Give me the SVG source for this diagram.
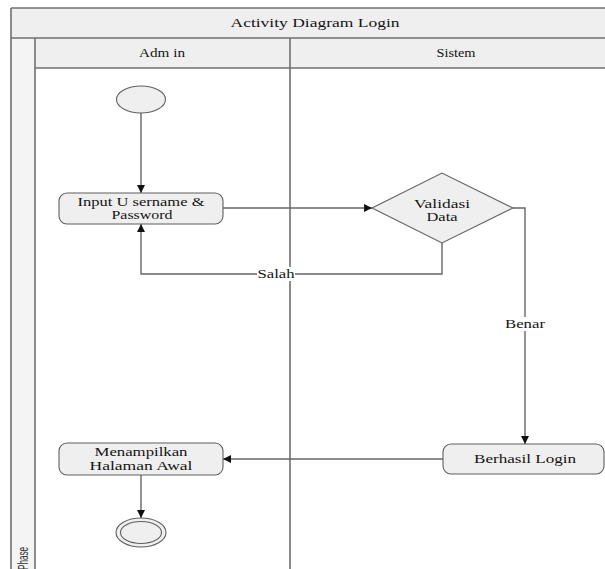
<svg xmlns="http://www.w3.org/2000/svg" width="605" height="569" viewBox="0 0 605 569">
  <style>
    .band { fill: #efefef; stroke: none; }
    .rule { stroke: #707070; stroke-width: 1.6; fill: none; }
    .node { fill: #efefef; stroke: #5f5f5f; stroke-width: 1.1; }
    .edge { fill: none; stroke: #666666; stroke-width: 1.4; }
    .lbl { font-family: "Liberation Serif", "Times New Roman", serif; font-size: 12px; fill: #141414; text-anchor: middle; }
    .tag { fill: #ffffff; stroke: none; }
  </style>
  <defs>
    <marker id="arrow" markerUnits="userSpaceOnUse" markerWidth="9" markerHeight="9" refX="8" refY="4" orient="auto">
      <path d="M0,0 L8,4 L0,8 z" fill="#111111"/>
    </marker>
  </defs>

  <!-- swimlane frame -->
  <g id="frame">
    <rect x="0" y="0" width="605" height="569" fill="#ffffff"/>
    <rect class="band" x="11" y="8" width="611" height="30"/>
    <rect class="band" x="35" y="38" width="587" height="30"/>
    <rect x="11" y="38" width="24" height="531" fill="#f4f4f4"/>
    <line class="rule" x1="11" y1="8" x2="622" y2="8"/>
    <line class="rule" x1="11" y1="38" x2="622" y2="38"/>
    <line class="rule" x1="35" y1="68" x2="622" y2="68"/>
    <line class="rule" x1="11" y1="8" x2="11" y2="569"/>
    <line class="rule" x1="35" y1="38" x2="35" y2="569"/>
    <line class="rule" x1="290" y1="38" x2="290" y2="569"/>
    <text class="lbl" x="315" y="27" textLength="169" lengthAdjust="spacingAndGlyphs">Activity Diagram Login</text>
    <text class="lbl" x="162" y="57" textLength="46" lengthAdjust="spacingAndGlyphs">Adm in</text>
    <text class="lbl" x="456" y="57" textLength="39" lengthAdjust="spacingAndGlyphs">Sistem</text>
    <text transform="translate(28,570) rotate(-90) scale(1,1.4)" font-family="Liberation Sans, Arial, sans-serif" font-size="10" fill="#333333" textLength="23" lengthAdjust="spacingAndGlyphs">Phase</text>
  </g>

  <!-- connectors -->
  <g id="connectors">
    <path class="edge" d="M141,113 L141,193" marker-end="url(#arrow)"/>
    <path class="edge" d="M223,208 L372,208" marker-end="url(#arrow)"/>
    <path class="edge" d="M513,208 L525,208 L525,444" marker-end="url(#arrow)"/>
    <path class="edge" d="M442,243 L442,274 L141,274 L141,224" marker-end="url(#arrow)"/>
    <path class="edge" d="M443,459 L223,459" marker-end="url(#arrow)"/>
    <path class="edge" d="M141,475 L141,518" marker-end="url(#arrow)"/>
    <rect class="tag" x="257" y="267" width="38" height="14"/>
    <text class="lbl" x="276" y="278" textLength="37" lengthAdjust="spacingAndGlyphs">Salah</text>
    <rect class="tag" x="504" y="317" width="42" height="14"/>
    <text class="lbl" x="525" y="328" textLength="40" lengthAdjust="spacingAndGlyphs">Benar</text>
  </g>

  <g id="start">
    <ellipse class="node" cx="141" cy="99.5" rx="24.5" ry="13.5"/>
  </g>

  <g id="input-login">
    <rect class="node" x="59" y="193" width="164" height="31" rx="8"/>
    <text class="lbl" x="141" y="206" textLength="127" lengthAdjust="spacingAndGlyphs">Input U sername &amp;</text>
    <text class="lbl" x="142" y="219" textLength="61" lengthAdjust="spacingAndGlyphs">Password</text>
  </g>

  <g id="validasi">
    <polygon class="node" points="372,208 442,173 513,208 442,243"/>
    <text class="lbl" x="442" y="208" textLength="56" lengthAdjust="spacingAndGlyphs">Validasi</text>
    <text class="lbl" x="442" y="221" textLength="31" lengthAdjust="spacingAndGlyphs">Data</text>
  </g>

  <g id="berhasil">
    <rect class="node" x="443" y="444" width="161" height="30" rx="8"/>
    <text class="lbl" x="525" y="463" textLength="102" lengthAdjust="spacingAndGlyphs">Berhasil Login</text>
  </g>

  <g id="menampilkan">
    <rect class="node" x="59" y="443" width="164" height="32" rx="8"/>
    <text class="lbl" x="141" y="456" textLength="93" lengthAdjust="spacingAndGlyphs">Menampilkan</text>
    <text class="lbl" x="141" y="469.5" textLength="103" lengthAdjust="spacingAndGlyphs">Halaman Awal</text>
  </g>

  <g id="end">
    <ellipse class="node" cx="141" cy="532.5" rx="25" ry="14.5"/>
    <ellipse class="node" cx="141" cy="532.5" rx="20.5" ry="11"/>
  </g>
</svg>
